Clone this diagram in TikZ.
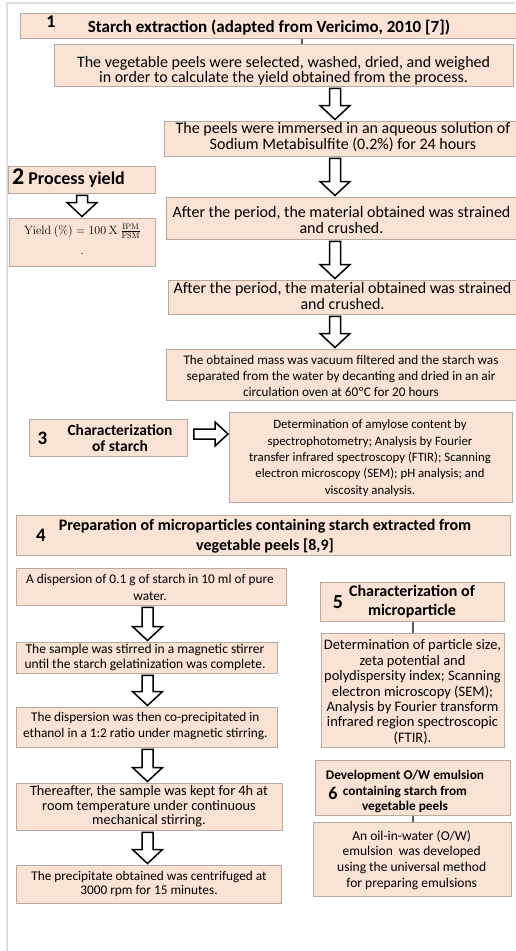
\documentclass[tikz,border=0pt]{standalone}
\usepackage[no-math]{fontspec}
\setmainfont{Carlito}
\usetikzlibrary{calc}
\definecolor{peach}{RGB}{250,227,213}
\definecolor{bordergray}{RGB}{185,170,160}
\definecolor{framegray}{RGB}{222,222,222}
\definecolor{linkgray}{RGB}{90,90,90}
\newcommand{\fs}[2]{\fontsize{#1}{#2}\selectfont}
\tikzset{
  box/.style={draw=bordergray, fill=peach, line width=0.9pt, rectangle, inner sep=0pt},
  txt/.style={align=center, inner sep=0pt, text=black},
  blockarrow/.style={draw=black, fill=white, line width=1.5pt, line join=miter},
  link/.style={draw=linkgray, line width=1.3pt},
}
\newcommand{\boxat}[5]{\node[box, anchor=north west, minimum width={#4pt-#2pt}, minimum height={#5pt-#3pt}] (#1) at (#2,#3) {};}
\newcommand{\blockdown}[3]{%
  \draw[blockarrow] let \p1=(#1.south), \p2=(#2.north) in
  (#3pt-5.5pt,\y1-1.5pt) -- (#3pt+5.5pt,\y1-1.5pt) -- (#3pt+5.5pt,\y2+15.5pt) --
  (#3pt+15pt,\y2+15.5pt) -- (#3pt,\y2+1.5pt) -- (#3pt-15pt,\y2+15.5pt) --
  (#3pt-5.5pt,\y2+15.5pt) -- cycle;}
\newcommand{\blockright}[3]{%
  \draw[blockarrow] let \p1=(#1.east), \p2=(#2.west) in
  (\x1+6pt,-#3pt+5pt) -- (\x2-14pt,-#3pt+5pt) -- (\x2-14pt,-#3pt+12pt) --
  (\x2-1pt,-#3pt) -- (\x2-14pt,-#3pt-12pt) -- (\x2-14pt,-#3pt-5pt) --
  (\x1+6pt,-#3pt-5pt) -- cycle;}
\begin{document}
\begin{tikzpicture}[x=1pt,y=-1pt]
\useasboundingbox (0,0) rectangle (515,951);
\fill[white] (0,0) rectangle (515,951);
\draw[framegray, line width=1.2pt] (7,951) -- (7,3) -- (515,3);

% ---- section 1
\boxat{b1}{20}{13}{518}{38}
\node[txt, font={\fs{18}{18}\bfseries}] (n1) at (51,22) {1};
\node[txt, font={\fs{17}{17}\bfseries}] (t1) at (269,27.5) {Starch extraction (adapted from Vericimo, 2010 [7])};

\boxat{veg}{54}{44}{513}{86}
\node[txt, font={\fs{16}{15.3}}] (tveg) at (283.5,71) {The vegetable peels were selected, washed, dried, and weighed\\in order to calculate the yield obtained from the process.};

\boxat{imm}{164}{121}{522}{156}
\node[txt, font={\fs{16}{16.5}}] (timm) at (343,137) {The peels were immersed in an aqueous solution of\\Sodium Metabisulfite (0.2\%) for 24 hours};

\boxat{aft1}{166}{197}{517}{239}
\node[txt, font={\fs{16}{15.5}}] (taft1) at (341.5,220) {After the period, the material obtained was strained\\and crushed.};

\boxat{aft2}{168}{280}{517}{314}
\node[txt, font={\fs{16}{15.5}}] (taft2) at (342.5,296) {After the period, the material obtained was strained\\and crushed.};

\boxat{mass}{166}{349}{516}{400}
\node[txt, font={\fs{13.2}{15.8}}] (tmass) at (341,376) {The obtained mass was vacuum filtered and the starch was\\separated from the water by decanting and dried in an air\\circulation oven at 60ºC for 20 hours};

% ---- section 2
\boxat{b2}{8}{166}{155}{193}
\node[txt, font={\fs{18}{18}\bfseries}] (t2) at (68.5,178) {{\fs{24}{24}2} Process yield};

\boxat{yb}{9}{218}{155}{266}
\node[txt, font={\fs{12}{14}}] (tyield) at (82.5,231) {$\mathrm{Yield\ (\%)} = 100\ \mathrm{X}\ \frac{\mathrm{IPM}}{\mathrm{FSM}}$};
\node[txt, font={\fs{9}{9}}] (tdot) at (82,254) {.};

% ---- section 3
\boxat{b3}{29}{419}{187}{456}
\node[txt, font={\fs{19}{19}\bfseries}] (n3) at (42.5,438.5) {3};
\node[txt, font={\fs{15.5}{16}\bfseries}] (t3) at (120,438.5) {Characterization\\of starch};

\boxat{det}{229}{412}{512}{502}
\node[txt, font={\fs{12.8}{16.3}}] (tdet) at (370,458) {Determination of amylose content by\\spectrophotometry; Analysis by Fourier\\transfer infrared spectroscopy (FTIR); Scanning\\electron microscopy (SEM); pH analysis; and\\viscosity analysis.};

% ---- section 4
\boxat{b4}{16}{515}{510}{555}
\node[txt, font={\fs{19}{19}\bfseries}] (n4) at (41,535) {4};
\node[txt, font={\fs{16}{20}\bfseries}] (t4) at (265,536) {Preparation of microparticles containing starch extracted from\\vegetable peels [8,9]};

\boxat{disp}{16}{568}{286}{605}
\node[txt, font={\fs{13.3}{17}}] (tdisp) at (150,587) {A dispersion of 0.1 g of starch in 10 ml of pure\\water.};

\boxat{stir}{16}{642}{277}{673}
\node[txt, font={\fs{13.5}{14.5}}] (tstir) at (145,657.5) {The sample was stirred in a magnetic stirrer\\until the starch gelatinization was complete.};

\boxat{cop}{16}{707}{277}{747}
\node[txt, font={\fs{13.3}{16}}] (tcop) at (145.3,726) {The dispersion was then co-precipitated in\\ethanol in a 1:2 ratio under magnetic stirring.};

\boxat{there}{16}{783}{282}{830}
\node[txt, font={\fs{14.3}{14.5}}] (tthere) at (149,806.5) {Thereafter, the sample was kept for 4h at\\room temperature under continuous\\mechanical stirring.};

\boxat{prec}{16}{865}{281}{903}
\node[txt, font={\fs{13.3}{14}}] (tprec) at (149,884) {The precipitate obtained was centrifuged at\\3000 rpm for 15 minutes.};

% ---- section 5
\boxat{b5}{320}{582}{504}{621}
\node[txt, font={\fs{20}{20}\bfseries}] (n5) at (338,602) {5};
\node[txt, font={\fs{16}{19}\bfseries}] (t5) at (412,602) {Characterization of\\microparticle};

\boxat{part}{321}{633}{504}{747}
\node[txt, font={\fs{14.5}{15.4}}] (tpart) at (412.5,692) {Determination of particle size,\\zeta potential and\\polydispersity index; Scanning\\electron microscopy (SEM);\\Analysis by Fourier transform\\infrared region spectroscopic\\(FTIR).};

% ---- section 6
\boxat{b6}{315}{760}{510}{815}
\node[txt, font={\fs{18}{18}\bfseries}] (n6) at (333,793) {6};
\node[txt, font={\fs{13.3}{15.5}\bfseries}] (t6) at (405,791.5) {Development O/W emulsion\\containing starch from\\vegetable peels};

\boxat{oil}{313}{822}{511}{896}
\node[txt, font={\fs{13.5}{15.8}}] (toil) at (411.7,860) {An oil-in-water (O/W)\\emulsion~ was developed\\using the universal method\\for preparing emulsions};

% ---- connectors
\coordinate (xa) at (302,0);
\coordinate (xb) at (413,0);
\draw[link] (b1.south -| xa) -- (veg.north -| xa);
\draw[link] (b5.south -| xb) -- (part.north -| xb);
\draw[link] (b6.south -| xb) -- (oil.north -| xb);

\blockdown{veg}{imm}{335}
\blockdown{imm}{aft1}{335}
\blockdown{aft1}{aft2}{335}
\blockdown{aft2}{mass}{335}
\blockdown{b2}{yb}{82}
\blockdown{disp}{stir}{147.5}
\blockdown{stir}{cop}{147.5}
\blockdown{cop}{there}{147.5}
\blockdown{there}{prec}{147.5}
\blockright{b3}{det}{434}
\end{tikzpicture}
\end{document}
